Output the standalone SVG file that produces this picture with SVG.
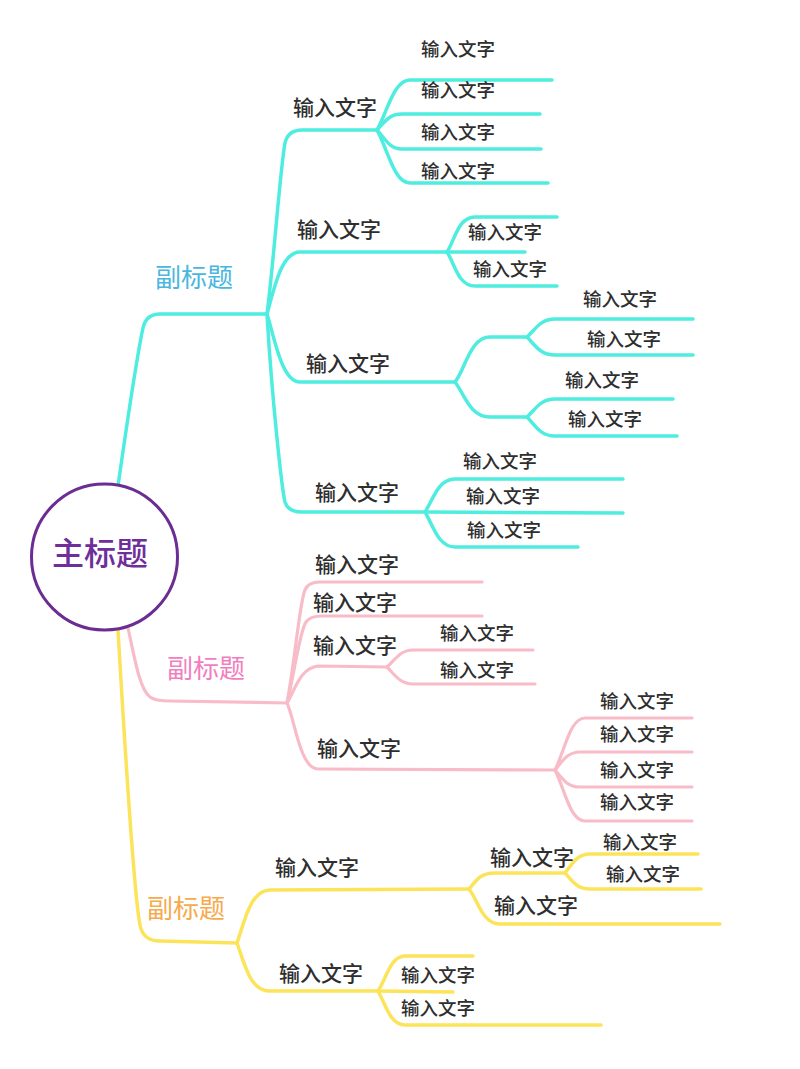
<svg xmlns="http://www.w3.org/2000/svg" width="800" height="1069" viewBox="0 0 800 1069">
<style>
.c{fill:none;stroke:#4EEDE0;stroke-width:3.5;stroke-linecap:round;stroke-linejoin:round}
.p{fill:none;stroke:#F8BCC8;stroke-width:3.2;stroke-linecap:round;stroke-linejoin:round}
.y{fill:none;stroke:#FCE45A;stroke-width:3.5;stroke-linecap:round;stroke-linejoin:round}
text{font-family:"Noto Sans CJK SC","Noto Sans",sans-serif;font-weight:500;fill:#2E2E2E}
.l2{font-size:21px}
.l3{font-size:18.5px}
.sub{font-size:26px;font-weight:400}
</style>
<rect width="800" height="1069" fill="#FFFFFF"/>
<g id="connectors">
<path class="c" d="M118,486 C126,430 136,360 143,328 Q146,314 160,314 L267,314"/>
<path class="c" d="M267,314 C274,260 280,170 285,143 Q288,130 302,130 L377,130"/>
<path class="c" d="M377,130 C388,110 394,80 410,80 L552,80"/>
<path class="c" d="M377,130 C386,120 390,114 402,114 L540,114"/>
<path class="c" d="M377,130 C386,140 390,149 402,149 L541,149"/>
<path class="c" d="M377,130 C388,150 394,183 410,183 L548,183"/>
<path class="c" d="M267,314 C275,285 282,252 300,252 L525,252"/>
<path class="c" d="M447,252 C455,240 458,217 475,217 L557,217"/>
<path class="c" d="M447,252 C455,264 458,286 475,286 L557,286"/>
<path class="c" d="M267,314 C275,340 282,382 300,382 L455,382"/>
<path class="c" d="M455,382 C465,370 470,337 490,337 L527,337"/>
<path class="c" d="M527,337 C535,330 540,319 555,319 L693,319"/>
<path class="c" d="M527,337 C535,345 540,355 555,355 L693,355"/>
<path class="c" d="M455,382 C465,395 470,417 490,417 L527,417"/>
<path class="c" d="M527,417 C535,410 540,399 555,399 L673,399"/>
<path class="c" d="M527,417 C535,425 540,436 555,436 L677,436"/>
<path class="c" d="M267,314 C272,400 282,490 285,502 Q288,512 302,512 L425,512"/>
<path class="c" d="M425,512 C433,500 438,479 455,479 L623,479"/>
<path class="c" d="M425,512 L623,513"/>
<path class="c" d="M425,512 C433,525 438,547 455,547 L578,547"/>

<path class="p" d="M128,628 C135,660 140,690 150,697 Q155,701 170,701 L287,703"/>
<path class="p" d="M287,703 C295,660 300,600 305,590 Q308,582 320,582 L482,582"/>
<path class="p" d="M287,703 C295,670 300,630 306,622 Q310,616 322,616 L482,616"/>
<path class="p" d="M287,703 C295,690 300,668 318,666 L387,667"/>
<path class="p" d="M387,667 C395,660 400,650 413,650 L533,650"/>
<path class="p" d="M387,667 C395,675 400,684 413,684 L535,684"/>
<path class="p" d="M287,703 C295,720 300,769 318,769 L555,770"/>
<path class="p" d="M555,770 C565,750 570,718 585,718 L692,718"/>
<path class="p" d="M555,770 C563,760 568,752 580,752 L692,752"/>
<path class="p" d="M555,770 C563,780 568,787 580,787 L692,787"/>
<path class="p" d="M555,770 C565,790 570,821 585,821 L692,821"/>

<path class="y" d="M118,630 C125,750 135,900 140,925 Q143,941 160,941 L237,943"/>
<path class="y" d="M237,943 C245,920 250,891 270,890 L469,889"/>
<path class="y" d="M469,889 C477,880 480,873 495,873 L565,873"/>
<path class="y" d="M565,873 C572,865 576,854 590,854 L698,854"/>
<path class="y" d="M565,873 C572,880 576,889 590,889 L701,889"/>
<path class="y" d="M469,889 C478,900 482,924 500,924 L720,924"/>
<path class="y" d="M237,943 C245,965 250,991 270,991 L378,991"/>
<path class="y" d="M378,991 C386,980 390,956 405,956 L473,956"/>
<path class="y" d="M378,991 L453,992"/>
<path class="y" d="M378,991 C386,1005 390,1025 405,1025 L601,1025"/>
</g>

<g id="root">
<circle cx="104.5" cy="557" r="73" fill="#FFFFFF" stroke="#6B2D91" stroke-width="3"/>
<text x="100" y="565" text-anchor="middle" style="font-size:32px;font-weight:500;fill:#6E2F9A">主标题</text>
</g>

<g id="sub-cyan"><text class="sub" x="155" y="287" style="fill:#4AB7E0">副标题</text></g>
<g id="sub-pink"><text class="sub" x="167" y="678" style="fill:#F27EC0">副标题</text></g>
<g id="sub-yellow"><text class="sub" x="147" y="918" style="fill:#F6AA4C">副标题</text></g>

<g id="c1"><text class="l2" x="293" y="115">输入文字</text></g>
<g id="c1a"><text class="l3" x="421" y="56">输入文字</text></g>
<g id="c1b"><text class="l3" x="421" y="97">输入文字</text></g>
<g id="c1c"><text class="l3" x="421" y="139">输入文字</text></g>
<g id="c1d"><text class="l3" x="421" y="178">输入文字</text></g>
<g id="c2"><text class="l2" x="297" y="237">输入文字</text></g>
<g id="c2a"><text class="l3" x="468" y="239">输入文字</text></g>
<g id="c2b"><text class="l3" x="473" y="276">输入文字</text></g>
<g id="c3"><text class="l2" x="306" y="371">输入文字</text></g>
<g id="c3a"><text class="l3" x="583" y="306">输入文字</text></g>
<g id="c3b"><text class="l3" x="587" y="346">输入文字</text></g>
<g id="c3c"><text class="l3" x="565" y="387">输入文字</text></g>
<g id="c3d"><text class="l3" x="568" y="426">输入文字</text></g>
<g id="c4"><text class="l2" x="315" y="500">输入文字</text></g>
<g id="c4a"><text class="l3" x="463" y="468">输入文字</text></g>
<g id="c4b"><text class="l3" x="466" y="503">输入文字</text></g>
<g id="c4c"><text class="l3" x="467" y="537">输入文字</text></g>

<g id="p1"><text class="l2" x="315" y="572">输入文字</text></g>
<g id="p2"><text class="l2" x="313" y="610">输入文字</text></g>
<g id="p3"><text class="l2" x="313" y="653">输入文字</text></g>
<g id="p3a"><text class="l3" x="440" y="640">输入文字</text></g>
<g id="p3b"><text class="l3" x="440" y="677">输入文字</text></g>
<g id="p4"><text class="l2" x="317" y="756">输入文字</text></g>
<g id="p4a"><text class="l3" x="600" y="708">输入文字</text></g>
<g id="p4b"><text class="l3" x="600" y="741">输入文字</text></g>
<g id="p4c"><text class="l3" x="600" y="777">输入文字</text></g>
<g id="p4d"><text class="l3" x="600" y="809">输入文字</text></g>

<g id="y1"><text class="l2" x="275" y="875">输入文字</text></g>
<g id="y1a"><text class="l2" x="490" y="865">输入文字</text></g>
<g id="y1a1"><text class="l3" x="603" y="849">输入文字</text></g>
<g id="y1a2"><text class="l3" x="606" y="881">输入文字</text></g>
<g id="y1b"><text class="l2" x="494" y="913">输入文字</text></g>
<g id="y2"><text class="l2" x="279" y="981">输入文字</text></g>
<g id="y2a"><text class="l3" x="401" y="982">输入文字</text></g>
<g id="y2b"><text class="l3" x="401" y="1015">输入文字</text></g>
</svg>
